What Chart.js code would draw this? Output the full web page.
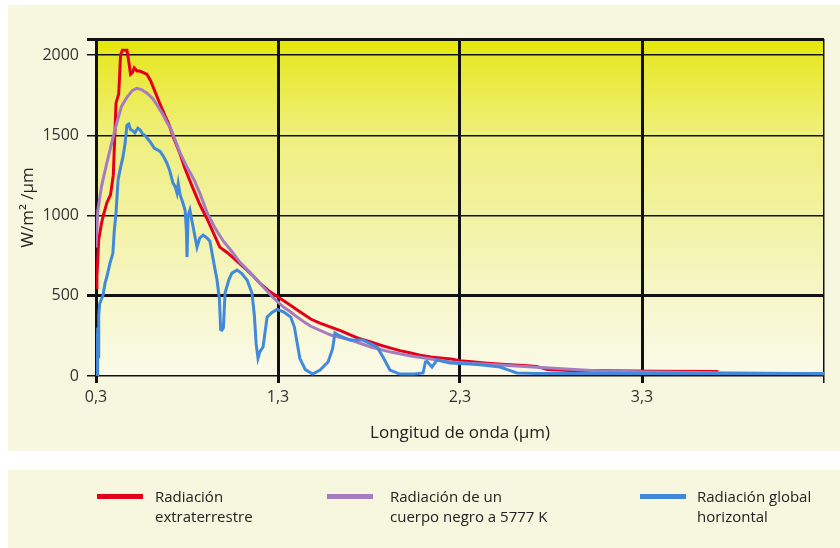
<!DOCTYPE html>
<html><head><meta charset="utf-8">
<script src="https://cdn.jsdelivr.net/npm/chart.js@4.4.1/dist/chart.umd.min.js"></script>
<style>
html,body{margin:0;padding:0;background:#fff;width:840px;height:548px;overflow:hidden;}
#p1{position:absolute;left:8px;top:5px;width:832px;height:446px;background:#f6f7de;}
#p2{position:absolute;left:8px;top:470px;width:832px;height:78px;background:#f6f7de;}
#wrap{position:absolute;left:0;top:0;width:840px;height:548px;}
.leg{position:absolute;top:486px;font-family:"Open Sans",sans-serif;font-size:15px;line-height:20px;color:#222;white-space:nowrap;}
.sw{position:absolute;height:5px;top:494px;}
</style></head>
<body>
<div id="p1"></div><div id="p2"></div>
<div id="wrap"><canvas id="c" width="840" height="548"></canvas></div>
<div id="legend"></div>
<script>
// ---- data ----
const xTickValues = [0.3, 1.3, 2.3, 3.3, 4.3];
const xTickLabels = ['0,3', '1,3', '2,3', '3,3', ''];
const yTickValues = [0, 500, 1000, 1500, 2000, 2100];
const yTickLabels = ['0', '500', '1000', '1500', '2000', ''];

const seriesNames = [
  ['Radiación', 'extraterrestre'],
  ['Radiación de un', 'cuerpo negro a 5777 K'],
  ['Radiación global', 'horizontal']
];
const seriesColors = ['#e3001b', '#a67cc0', '#4189da'];

const redWl  = [0.30,0.305,0.315,0.33,0.34,0.36,0.38,0.395,0.40,0.41,0.425,0.435,0.445,0.47,0.48,0.49,0.50,0.51,0.525,0.54,0.56,0.58,0.60,0.625,0.65,0.68,0.70,0.725,0.76,0.79,0.83,0.87,0.91,0.95,0.98,1.02,1.05,1.09,1.13,1.17,1.20,1.25,1.29,1.35,1.42,1.48,1.53,1.59,1.65,1.70,1.75,1.81,1.86,1.92,1.97,2.03,2.08,2.14,2.19,2.25,2.30,2.35,2.45,2.55,2.65,2.72,2.78,2.90,3.10,3.40,3.72];
const redVal = [550,620,850,950,1000,1080,1130,1250,1400,1700,1760,2000,2030,2030,1960,1880,1890,1920,1900,1900,1890,1880,1840,1770,1700,1620,1570,1488,1390,1290,1177,1070,980,880,803,770,741,700,660,615,579,530,500,455,400,355,330,305,280,255,232,212,193,174,158,143,130,118,112,106,95,90,80,72,65,60,40,35,32,30,28];

const bbWl  = [0.30,0.31,0.33,0.36,0.39,0.41,0.44,0.47,0.50,0.525,0.55,0.58,0.61,0.635,0.665,0.69,0.71,0.735,0.76,0.80,0.84,0.87,0.91,0.95,1.00,1.04,1.09,1.15,1.20,1.27,1.33,1.37,1.40,1.44,1.48,1.59,1.70,1.81,1.92,2.03,2.14,2.25,2.35,2.52,2.79,3.07,3.34,3.84,4.30];
const bbVal = [800,1030,1180,1330,1470,1560,1680,1737,1780,1793,1785,1762,1731,1690,1635,1580,1544,1470,1395,1302,1220,1140,1020,930,840,785,710,641,578,492,430,399,372,340,310,255,224,181,149,125,106,87,80,68,50,31,25,19,14];

const ghWl  = [0.300,0.302,0.304,0.306,0.308,0.310,0.312,0.315,0.320,0.330,0.338,0.350,0.360,0.377,0.393,0.400,0.410,0.421,0.435,0.448,0.460,0.470,0.480,0.490,0.500,0.514,0.530,0.542,0.555,0.569,0.597,0.620,0.652,0.670,0.690,0.705,0.723,0.735,0.745,0.752,0.762,0.778,0.790,0.797,0.800,0.806,0.816,0.830,0.855,0.870,0.888,0.910,0.926,0.945,0.965,0.978,0.985,0.992,1.000,1.009,1.030,1.047,1.075,1.100,1.130,1.157,1.170,1.180,1.190,1.200,1.218,1.240,1.265,1.295,1.330,1.370,1.390,1.420,1.450,1.490,1.531,1.575,1.600,1.613,1.630,1.696,1.767,1.810,1.844,1.877,1.915,1.970,2.050,2.097,2.110,2.119,2.146,2.174,2.245,2.355,2.426,2.520,2.560,2.613,2.720,3.000,3.500,4.300];
const ghVal = [0,150,0,260,0,300,120,380,450,480,500,580,620,703,766,900,1015,1220,1300,1364,1450,1563,1570,1535,1530,1515,1545,1535,1510,1500,1460,1420,1400,1370,1326,1280,1202,1180,1140,1200,1130,1077,1030,900,741,1000,1034,950,803,860,878,860,840,720,598,480,290,286,300,517,600,641,660,640,598,517,380,200,110,150,181,367,395,415,400,367,305,110,40,12,37,87,170,268,255,224,224,200,181,118,37,12,12,19,87,90,56,100,81,75,68,56,40,19,15,15,15,15];

// ---- chart ----
const toPts = (xs, ys) => xs.map((x, i) => ({x: x, y: ys[i]}));

const bgPlugin = {
  id: 'plotBg',
  beforeDraw(chart) {
    const {ctx, chartArea: a} = chart;
    const g = ctx.createLinearGradient(0, a.top, 0, a.bottom);
    g.addColorStop(0, '#e6e600');
    g.addColorStop(0.06, '#e8e82c');
    g.addColorStop(0.28, '#efef7c');
    g.addColorStop(0.52, '#f2f2a2');
    g.addColorStop(0.76, '#f6f6c8');
    g.addColorStop(1, '#fafaea');
    ctx.save();
    ctx.fillStyle = g;
    ctx.fillRect(a.left, a.top, a.right - a.left, a.bottom - a.top);
    ctx.restore();
  }
};

const tickFont = {family: '"Open Sans", sans-serif', size: 16};
const titleFont = {family: '"Open Sans", sans-serif', size: 17};

new Chart(document.getElementById('c'), {
  type: 'line',
  data: {
    datasets: [
      {label: seriesNames[0].join(' '), data: toPts(redWl, redVal), borderColor: seriesColors[0], order: 3},
      {label: seriesNames[1].join(' '), data: toPts(bbWl, bbVal), borderColor: seriesColors[1], order: 2},
      {label: seriesNames[2].join(' '), data: toPts(ghWl, ghVal), borderColor: seriesColors[2], order: 1}
    ]
  },
  options: {
    responsive: false,
    animation: false,
    parsing: false,
    layout: {padding: {left: 0, right: 16, top: 39, bottom: 100}},
    elements: {line: {borderWidth: 3, tension: 0, fill: false}, point: {radius: 0}},
    plugins: {legend: {display: false}, tooltip: {enabled: false}},
    scales: {
      x: {
        type: 'linear', min: 0.3, max: 4.3,
        afterBuildTicks: s => { s.ticks = xTickValues.map(v => ({value: v})); },
        afterFit: s => { s.height = 72; },
        ticks: {callback: (v, i) => xTickLabels[i], font: tickFont, color: '#333', padding: 5, maxRotation: 0, autoSkip: false},
        grid: {color: '#111', lineWidth: c => (c.tick && c.tick.value > 4) ? 1.5 : 3, tickLength: 7},
        border: {display: false},
        title: {display: true, text: 'Longitud de onda (µm)', font: titleFont, color: '#222', padding: {top: 0, bottom: 5}}
      },
      y: {
        type: 'linear', min: 0, max: 2100,
        afterBuildTicks: s => { s.ticks = yTickValues.map(v => ({value: v})); },
        afterFit: s => { s.width = 96; },
        ticks: {callback: (v, i) => yTickLabels[i], font: tickFont, color: '#333', padding: 8, autoSkip: false},
        grid: {color: '#111', lineWidth: c => (c.tick && (c.tick.value === 500 || c.tick.value === 2100)) ? 3 : 1.5, tickLength: 9},
        border: {display: false},
        title: {display: true, text: 'W/m² /µm', font: titleFont, color: '#222', padding: {top: 18, bottom: 0}}
      }
    }
  },
  plugins: [bgPlugin]
});

// ---- HTML legend from the series ----
const swLeft = [97, 327, 640];
const txtLeft = [155, 390, 697];
const lg = document.getElementById('legend');
seriesNames.forEach((lines, i) => {
  const s = document.createElement('div');
  s.className = 'sw';
  s.style.left = swLeft[i] + 'px';
  s.style.width = '46px';
  s.style.background = seriesColors[i];
  lg.appendChild(s);
  const t = document.createElement('div');
  t.className = 'leg';
  t.style.left = txtLeft[i] + 'px';
  t.innerHTML = lines.join('<br>');
  lg.appendChild(t);
});
</script>
</body></html>
